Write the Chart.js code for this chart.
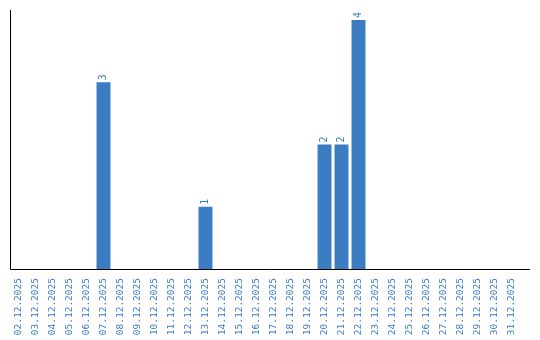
<!DOCTYPE html>
<html>
<head>
<meta charset="utf-8">
<script src="https://cdn.jsdelivr.net/npm/chart.js@4.4.0/dist/chart.umd.min.js"></script>
<style>
  html, body { margin: 0; padding: 0; background: #fff; }
  #c { display: block; }
</style>
</head>
<body>
<canvas id="c" width="540" height="340"></canvas>
<script>
const dateLabels = [
  "02.12.2025", "03.12.2025", "04.12.2025", "05.12.2025", "06.12.2025",
  "07.12.2025", "08.12.2025", "09.12.2025", "10.12.2025", "11.12.2025",
  "12.12.2025", "13.12.2025", "14.12.2025", "15.12.2025", "16.12.2025",
  "17.12.2025", "18.12.2025", "19.12.2025", "20.12.2025", "21.12.2025",
  "22.12.2025", "23.12.2025", "24.12.2025", "25.12.2025", "26.12.2025",
  "27.12.2025", "28.12.2025", "29.12.2025", "30.12.2025", "31.12.2025"
];
const counts = [
  0, 0, 0, 0, 0, 3, 0, 0, 0, 0,
  0, 1, 0, 0, 0, 0, 0, 0, 2, 2,
  4, 0, 0, 0, 0, 0, 0, 0, 0, 0
];

const barBlue = "#3b7dc3";
const textBlue = "#3a7bc8";
const labelFont = "'DejaVu Sans Mono', monospace";

// draws the two black axis lines, a bit longer than the plot area
const axisLinesPlugin = {
  id: "axisLines",
  afterDraw(chart) {
    const { ctx, chartArea } = chart;
    ctx.save();
    ctx.strokeStyle = "#000";
    ctx.lineWidth = 1;
    ctx.beginPath();
    ctx.moveTo(chartArea.left + 0.5, chartArea.top - 10);
    ctx.lineTo(chartArea.left + 0.5, chartArea.bottom + 0.5);
    ctx.lineTo(chartArea.right + 10, chartArea.bottom + 0.5);
    ctx.stroke();
    ctx.restore();
  }
};

// rotated value labels on top of non-zero bars
const valueLabelPlugin = {
  id: "valueLabels",
  afterDatasetsDraw(chart) {
    const { ctx } = chart;
    const meta = chart.getDatasetMeta(0);
    ctx.save();
    ctx.fillStyle = textBlue;
    ctx.font = "10px " + labelFont;
    ctx.textAlign = "left";
    ctx.textBaseline = "middle";
    meta.data.forEach((bar, i) => {
      const v = counts[i];
      if (!v) return;
      ctx.save();
      ctx.translate(bar.x, bar.y - 2);
      ctx.rotate(-Math.PI / 2);
      ctx.fillText(String(v), 0, 0);
      ctx.restore();
    });
    ctx.restore();
  }
};

new Chart(document.getElementById("c"), {
  type: "bar",
  data: {
    labels: dateLabels,
    datasets: [{
      data: counts,
      backgroundColor: barBlue,
      categoryPercentage: 1,
      barPercentage: 0.82
    }]
  },
  options: {
    responsive: false,
    animation: false,
    layout: { padding: { left: 10, top: 20, right: 20, bottom: 0 } },
    plugins: { legend: { display: false }, tooltip: { enabled: false } },
    scales: {
      x: {
        grid: { display: false },
        border: { display: false },
        ticks: {
          color: textBlue,
          font: { family: labelFont, size: 9.5 },
          minRotation: 90,
          maxRotation: 90,
          autoSkip: false,
          padding: 1
        },
        afterFit(scale) { scale.height = 71; }
      },
      y: {
        display: false,
        min: 0,
        max: 4
      }
    }
  },
  plugins: [axisLinesPlugin, valueLabelPlugin]
});
</script>
</body>
</html>
